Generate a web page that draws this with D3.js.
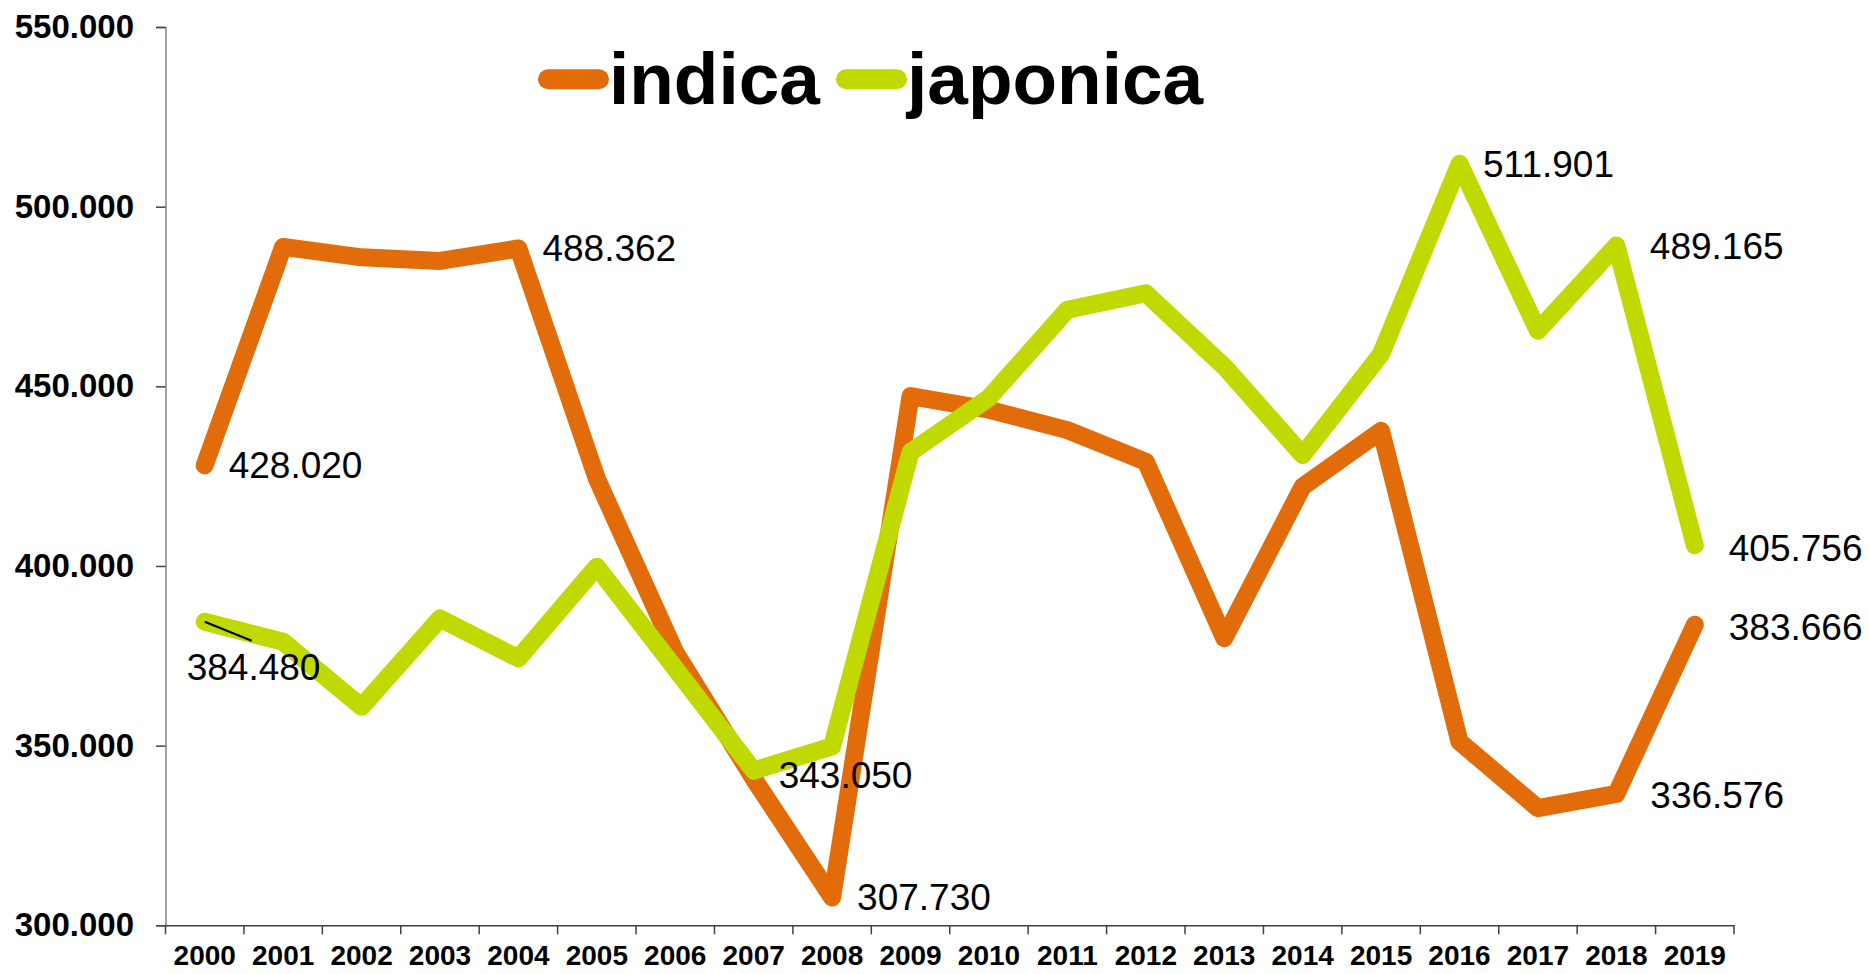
<!DOCTYPE html>
<html>
<head>
<meta charset="utf-8">
<script src="https://cdn.jsdelivr.net/npm/d3@7"></script>
<style>
  body { margin: 0; background: #fff; }
  svg { font-family: "Liberation Sans", Arial, sans-serif; }
</style>
</head>
<body>
<div id="chart"></div>
<script>
var years = ["2000", "2001", "2002", "2003", "2004", "2005", "2006", "2007", "2008", "2009",
             "2010", "2011", "2012", "2013", "2014", "2015", "2016", "2017", "2018", "2019"];

var indica = [428020, 488800, 485900, 484900, 488362, 424300, 376000, 340800, 307730, 447300,
              443500, 437800, 429000, 379900, 422100, 437600, 351100, 332600, 336576, 383666];

var japonica = [384480, 378900, 360800, 385400, 374300, 399800, 371500, 343050, 349800, 431700,
                446800, 471300, 475900, 455500, 430900, 459000, 511901, 465500, 489165, 405756];

var seriesNames = ["indica", "japonica"];
var yTicks = [300000, 350000, 400000, 450000, 500000, 550000];

// which points carry a value label (series, year index)
var labelled = [
    ["indica", 0], ["indica", 4], ["indica", 8], ["indica", 18], ["indica", 19],
    ["japonica", 0], ["japonica", 7], ["japonica", 16], ["japonica", 18], ["japonica", 19]
];

function drawChart(divName) {

    var W = 1869, H = 974;
    var margin = {top: 27, right: 135, bottom: 48.7, left: 165.5}
        , width = W - margin.left - margin.right
        , height = H - margin.top - margin.bottom;

    var colors = {indica: "#e36c0a", japonica: "#c0d900"};
    var values = {indica: indica, japonica: japonica};

    // label offsets in px from the point
    var offsets = {
        "indica-0": [24, 13], "indica-4": [24, 12.5], "indica-8": [25, 12.5],
        "indica-18": [34, 14.6], "indica-19": [34, 15.6],
        "japonica-0": [-18, 58], "japonica-7": [25, 17], "japonica-16": [23.5, 13],
        "japonica-18": [33.5, 13], "japonica-19": [34, 16]
    };

    var loc = d3.formatLocale({decimal: ",", thousands: ".", grouping: [3], currency: ["", ""]});
    var fmt = loc.format(",.0f");

    var x = d3.scaleBand()
        .domain(years)
        .range([0, width])
        .padding(0);

    var y = d3.scaleLinear()
        .domain([300000, 550000])
        .range([height, 0]);

    var cx = function (i) { return x(years[i]) + x.bandwidth() / 2; };

    var svg = d3.select('#' + divName)
        .append('svg')
        .attr('width', W)
        .attr('height', H);

    var main = svg.append('g')
        .attr('transform', 'translate(' + margin.left + ',' + margin.top + ')');

    // y axis
    var yAxis = main.append('g')
        .call(d3.axisLeft(y).tickValues(yTicks).tickFormat(fmt).tickSize(9.5).tickPadding(22));
    yAxis.select('.domain').attr('stroke', '#868686').attr('stroke-width', 1.5);
    yAxis.selectAll('.tick line').attr('stroke', '#404040').attr('stroke-width', 1.5);
    yAxis.selectAll('.tick text')
        .attr('fill', '#000')
        .style('font-size', '33px')
        .style('font-weight', 'bold');

    // x axis: labels centred, ticks on band edges
    var xAxis = main.append('g')
        .attr('transform', 'translate(0,' + height + ')')
        .call(d3.axisBottom(x).tickSize(0).tickPadding(20).tickSizeOuter(0));
    xAxis.select('.domain').attr('stroke', '#404040').attr('stroke-width', 1.5);
    xAxis.selectAll('.tick text')
        .attr('fill', '#000')
        .style('font-size', '28px')
        .style('font-weight', 'bold');

    var edges = years.map(function (d) { return x(d); }).concat([width]);
    xAxis.selectAll('line.edge')
        .data(edges)
        .enter().append('line')
        .attr('class', 'edge')
        .attr('x1', function (d) { return d; })
        .attr('x2', function (d) { return d; })
        .attr('y1', 0)
        .attr('y2', 9)
        .attr('stroke', '#404040')
        .attr('stroke-width', 1.5);

    // lines
    var line = d3.line()
        .x(function (d, i) { return cx(i); })
        .y(function (d) { return y(d); });

    seriesNames.forEach(function (name) {
        main.append('path')
            .datum(values[name])
            .attr('d', line)
            .attr('fill', 'none')
            .attr('stroke', colors[name])
            .attr('stroke-width', 18)
            .attr('stroke-linejoin', 'round')
            .attr('stroke-linecap', 'round');
    });

    // leader line for japonica 2000
    main.append('line')
        .attr('x1', cx(0))
        .attr('y1', y(japonica[0]))
        .attr('x2', cx(0) + 47)
        .attr('y2', y(japonica[0]) + 19)
        .attr('stroke', '#000')
        .attr('stroke-width', 2);

    // value labels
    main.selectAll('text.val')
        .data(labelled)
        .enter().append('text')
        .attr('class', 'val')
        .attr('x', function (d) { return cx(d[1]) + offsets[d[0] + '-' + d[1]][0]; })
        .attr('y', function (d) { return y(values[d[0]][d[1]]) + offsets[d[0] + '-' + d[1]][1]; })
        .style('font-size', '37px')
        .attr('fill', '#000')
        .text(function (d) { return fmt(values[d[0]][d[1]]); });

    // legend
    var legend = svg.append('g');
    var legendX = [548, 846];
    seriesNames.forEach(function (name, i) {
        var g = legend.append('g').attr('transform', 'translate(' + legendX[i] + ',79.3)');
        g.append('line')
            .attr('x1', 0)
            .attr('x2', 51)
            .attr('stroke', colors[name])
            .attr('stroke-width', 20)
            .attr('stroke-linecap', 'round');
        g.append('text')
            .attr('x', 61)
            .attr('y', 25)
            .style('font-size', '73px')
            .style('font-weight', 'bold')
            .attr('fill', '#000')
            .text(name);
    });
}

drawChart('chart');
</script>
</body>
</html>
